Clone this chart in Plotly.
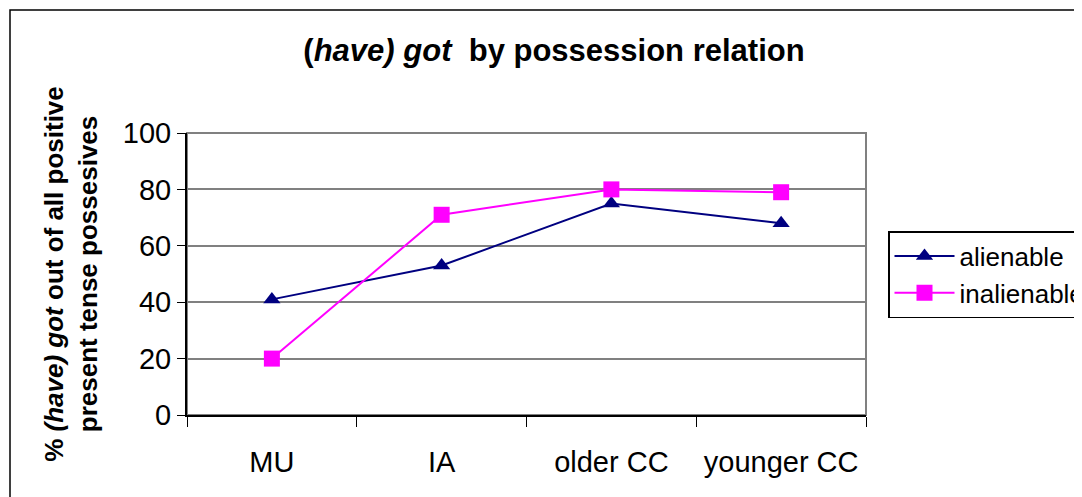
import plotly.graph_objects as go

# data
groups = ["MU", "IA", "older CC", "younger CC"]
alienable = [41, 53, 75, 68]
inalienable = [20, 71, 80, 79]
y_ticks = [0, 20, 40, 60, 80, 100]

font = "Liberation Sans, Arial, sans-serif"

fig = go.Figure()

# alienable series
fig.add_trace(go.Scatter(x=groups, y=alienable, name="alienable", mode="lines+markers",
                         line=dict(color="#000080", width=2),
                         marker=dict(symbol="triangle-up", size=15, color="#000080")))

# inalienable series
fig.add_trace(go.Scatter(x=groups, y=inalienable, name="inalienable", mode="lines+markers",
                         line=dict(color="#FF00FF", width=2),
                         marker=dict(symbol="square", size=16, color="#FF00FF")))

# the page body adds an 8px margin, so screen pixels are shifted by OFF
OFF = 8
L, R, T, B = 187 - OFF, 866 - OFF, 133 - OFF, 415 - OFF
W, H = 1082, 497
def px(x): return (x - OFF - L) / (R - L)
def py(y): return (B - (y - OFF)) / (B - T)

fig.update_layout(
    width=W, height=H,
    margin=dict(l=L, r=W - R, t=T, b=H - B, autoexpand=False),
    paper_bgcolor="white", plot_bgcolor="white",
    font=dict(family=font, color="black"),
    title=dict(text="<b>(<i>have) got</i>  by possession relation</b>",
               x=(554 - OFF) / W, xanchor="center", y=1 - (50 - OFF) / H, yanchor="middle",
               font=dict(size=31)),
    legend=dict(x=px(888), y=py(231), xanchor="left", yanchor="top",
                bordercolor="black", borderwidth=1.5, font=dict(size=26),
                tracegroupgap=2, itemwidth=60),
    shapes=[
        # gray frame around plot area
        dict(type="rect", xref="paper", yref="paper", x0=0, x1=1, y0=0, y1=1,
             line=dict(color="#808080", width=2), layer="below"),
        # outer chart border
        dict(type="rect", xref="paper", yref="paper", x0=px(10), x1=px(1100),
             y0=py(10), y1=py(515), line=dict(color="black", width=1.5)),
    ],
)

fig.update_xaxes(type="category", tickson="boundaries", ticks="outside", ticklen=10,
                 tickcolor="black", showline=True, linecolor="black", linewidth=2,
                 showgrid=False, tickfont=dict(size=29), ticklabelstandoff=20,
                 range=[-0.5, 3.5], automargin=False)

fig.update_yaxes(range=[0, 100], tickvals=y_ticks, ticks="outside", ticklen=8,
                 tickcolor="black", showline=True, linecolor="black", linewidth=2,
                 showgrid=True, gridcolor="#808080", gridwidth=1.5,
                 tickfont=dict(size=29), zeroline=False, automargin=False,
                 title=dict(text="<b>% <i>(have) got</i> out of all positive<br>present tense possesives</b>",
                            font=dict(size=26), standoff=18))

fig.write_html("out.html")
